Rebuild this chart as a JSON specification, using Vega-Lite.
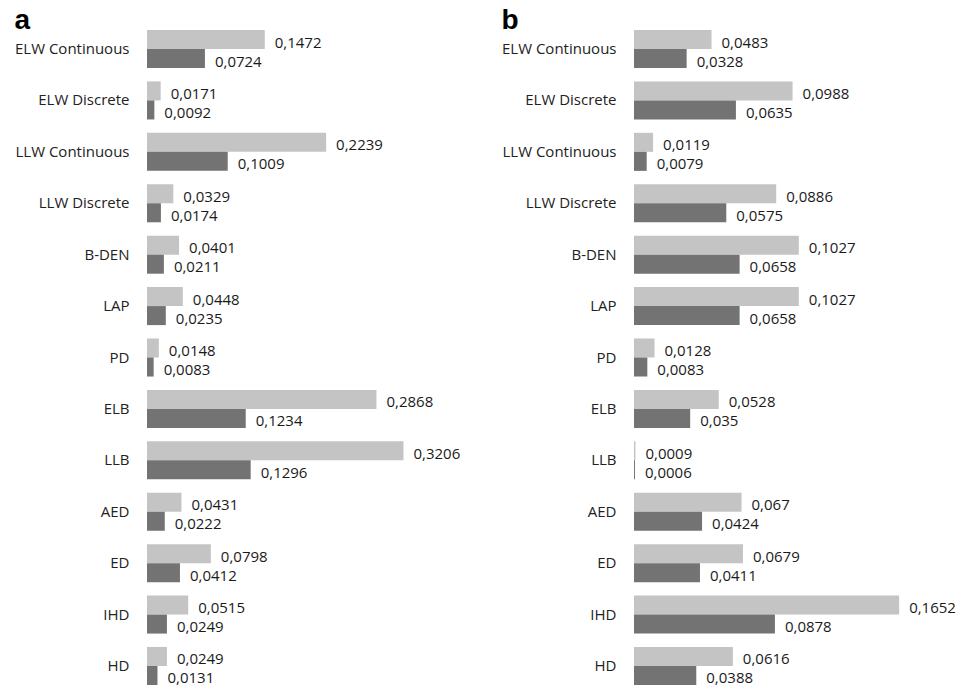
{
  "$schema": "https://vega.github.io/schema/vega-lite/v6.json",
  "padding": {"left": 14, "top": 7, "right": 0, "bottom": 0},
  "config": {
    "view": {"stroke": null},
    "font": "Open Sans",
    "locale": {"number": {"decimal": ",", "thousands": ".", "grouping": [3], "currency": ["", ""]}}
  },
  "datasets": {
    "scores": [
      {"panel": "a", "cat": "ELW Continuous", "series": "A", "value": 0.1472},
      {"panel": "a", "cat": "ELW Continuous", "series": "B", "value": 0.0724},
      {"panel": "a", "cat": "ELW Discrete", "series": "A", "value": 0.0171},
      {"panel": "a", "cat": "ELW Discrete", "series": "B", "value": 0.0092},
      {"panel": "a", "cat": "LLW Continuous", "series": "A", "value": 0.2239},
      {"panel": "a", "cat": "LLW Continuous", "series": "B", "value": 0.1009},
      {"panel": "a", "cat": "LLW Discrete", "series": "A", "value": 0.0329},
      {"panel": "a", "cat": "LLW Discrete", "series": "B", "value": 0.0174},
      {"panel": "a", "cat": "B-DEN", "series": "A", "value": 0.0401},
      {"panel": "a", "cat": "B-DEN", "series": "B", "value": 0.0211},
      {"panel": "a", "cat": "LAP", "series": "A", "value": 0.0448},
      {"panel": "a", "cat": "LAP", "series": "B", "value": 0.0235},
      {"panel": "a", "cat": "PD", "series": "A", "value": 0.0148},
      {"panel": "a", "cat": "PD", "series": "B", "value": 0.0083},
      {"panel": "a", "cat": "ELB", "series": "A", "value": 0.2868},
      {"panel": "a", "cat": "ELB", "series": "B", "value": 0.1234},
      {"panel": "a", "cat": "LLB", "series": "A", "value": 0.3206},
      {"panel": "a", "cat": "LLB", "series": "B", "value": 0.1296},
      {"panel": "a", "cat": "AED", "series": "A", "value": 0.0431},
      {"panel": "a", "cat": "AED", "series": "B", "value": 0.0222},
      {"panel": "a", "cat": "ED", "series": "A", "value": 0.0798},
      {"panel": "a", "cat": "ED", "series": "B", "value": 0.0412},
      {"panel": "a", "cat": "IHD", "series": "A", "value": 0.0515},
      {"panel": "a", "cat": "IHD", "series": "B", "value": 0.0249},
      {"panel": "a", "cat": "HD", "series": "A", "value": 0.0249},
      {"panel": "a", "cat": "HD", "series": "B", "value": 0.0131},
      {"panel": "b", "cat": "ELW Continuous", "series": "A", "value": 0.0483},
      {"panel": "b", "cat": "ELW Continuous", "series": "B", "value": 0.0328},
      {"panel": "b", "cat": "ELW Discrete", "series": "A", "value": 0.0988},
      {"panel": "b", "cat": "ELW Discrete", "series": "B", "value": 0.0635},
      {"panel": "b", "cat": "LLW Continuous", "series": "A", "value": 0.0119},
      {"panel": "b", "cat": "LLW Continuous", "series": "B", "value": 0.0079},
      {"panel": "b", "cat": "LLW Discrete", "series": "A", "value": 0.0886},
      {"panel": "b", "cat": "LLW Discrete", "series": "B", "value": 0.0575},
      {"panel": "b", "cat": "B-DEN", "series": "A", "value": 0.1027},
      {"panel": "b", "cat": "B-DEN", "series": "B", "value": 0.0658},
      {"panel": "b", "cat": "LAP", "series": "A", "value": 0.1027},
      {"panel": "b", "cat": "LAP", "series": "B", "value": 0.0658},
      {"panel": "b", "cat": "PD", "series": "A", "value": 0.0128},
      {"panel": "b", "cat": "PD", "series": "B", "value": 0.0083},
      {"panel": "b", "cat": "ELB", "series": "A", "value": 0.0528},
      {"panel": "b", "cat": "ELB", "series": "B", "value": 0.035},
      {"panel": "b", "cat": "LLB", "series": "A", "value": 0.0009},
      {"panel": "b", "cat": "LLB", "series": "B", "value": 0.0006},
      {"panel": "b", "cat": "AED", "series": "A", "value": 0.067},
      {"panel": "b", "cat": "AED", "series": "B", "value": 0.0424},
      {"panel": "b", "cat": "ED", "series": "A", "value": 0.0679},
      {"panel": "b", "cat": "ED", "series": "B", "value": 0.0411},
      {"panel": "b", "cat": "IHD", "series": "A", "value": 0.1652},
      {"panel": "b", "cat": "IHD", "series": "B", "value": 0.0878},
      {"panel": "b", "cat": "HD", "series": "A", "value": 0.0616},
      {"panel": "b", "cat": "HD", "series": "B", "value": 0.0388}
    ]
  },
  "spacing": 34,
  "hconcat": [
    {
      "title": {"text": "a", "anchor": "start", "frame": "bounds", "fontSize": 28, "font": "Liberation Sans", "fontWeight": "bold", "color": "#000000", "offset": -5},
      "data": {"name": "scores"},
      "transform": [{"filter": "datum.panel === 'a'"}],
      "width": 320,
      "height": 655,
      "encoding": {
        "y": {"field": "cat", "type": "nominal",
          "sort": ["ELW Continuous", "ELW Discrete", "LLW Continuous", "LLW Discrete", "B-DEN", "LAP", "PD", "ELB", "LLB", "AED", "ED", "IHD", "HD"],
          "scale": {"paddingInner": 0.26, "paddingOuter": 0},
          "axis": {"title": null, "ticks": false, "domain": false, "labelPadding": 18, "labelFontSize": 15, "labelColor": "#222222", "labelFont": "Open Sans", "labelLimit": 300}},
        "yOffset": {"field": "series", "type": "nominal", "sort": ["A", "B"]},
        "x": {"field": "value", "type": "quantitative", "scale": {"domain": [0, 0.4], "nice": false}, "axis": null}
      },
      "layer": [
        {"mark": {"type": "bar"},
         "encoding": {"color": {"field": "series", "type": "nominal", "scale": {"domain": ["A", "B"], "range": ["#c4c4c4", "#737373"]}, "legend": null}}},
        {"mark": {"type": "text", "align": "left", "baseline": "middle", "dx": 10, "dy": 3, "fontSize": 15, "color": "#1a1a1a"},
         "encoding": {"text": {"field": "value", "type": "quantitative", "format": ".4~f"}}}
      ]
    },
    {
      "title": {"text": "b", "anchor": "start", "frame": "bounds", "fontSize": 28, "font": "Liberation Sans", "fontWeight": "bold", "color": "#000000", "offset": -5},
      "data": {"name": "scores"},
      "transform": [{"filter": "datum.panel === 'b'"}],
      "width": 321,
      "height": 655,
      "encoding": {
        "y": {"field": "cat", "type": "nominal",
          "sort": ["ELW Continuous", "ELW Discrete", "LLW Continuous", "LLW Discrete", "B-DEN", "LAP", "PD", "ELB", "LLB", "AED", "ED", "IHD", "HD"],
          "scale": {"paddingInner": 0.26, "paddingOuter": 0},
          "axis": {"title": null, "ticks": false, "domain": false, "labelPadding": 18, "labelFontSize": 15, "labelColor": "#222222", "labelFont": "Open Sans", "labelLimit": 300}},
        "yOffset": {"field": "series", "type": "nominal", "sort": ["A", "B"]},
        "x": {"field": "value", "type": "quantitative", "scale": {"domain": [0, 0.2], "nice": false}, "axis": null}
      },
      "layer": [
        {"mark": {"type": "bar"},
         "encoding": {"color": {"field": "series", "type": "nominal", "scale": {"domain": ["A", "B"], "range": ["#c4c4c4", "#737373"]}, "legend": null}}},
        {"mark": {"type": "text", "align": "left", "baseline": "middle", "dx": 10, "dy": 3, "fontSize": 15, "color": "#1a1a1a"},
         "encoding": {"text": {"field": "value", "type": "quantitative", "format": ".4~f"}}}
      ]
    }
  ]
}
